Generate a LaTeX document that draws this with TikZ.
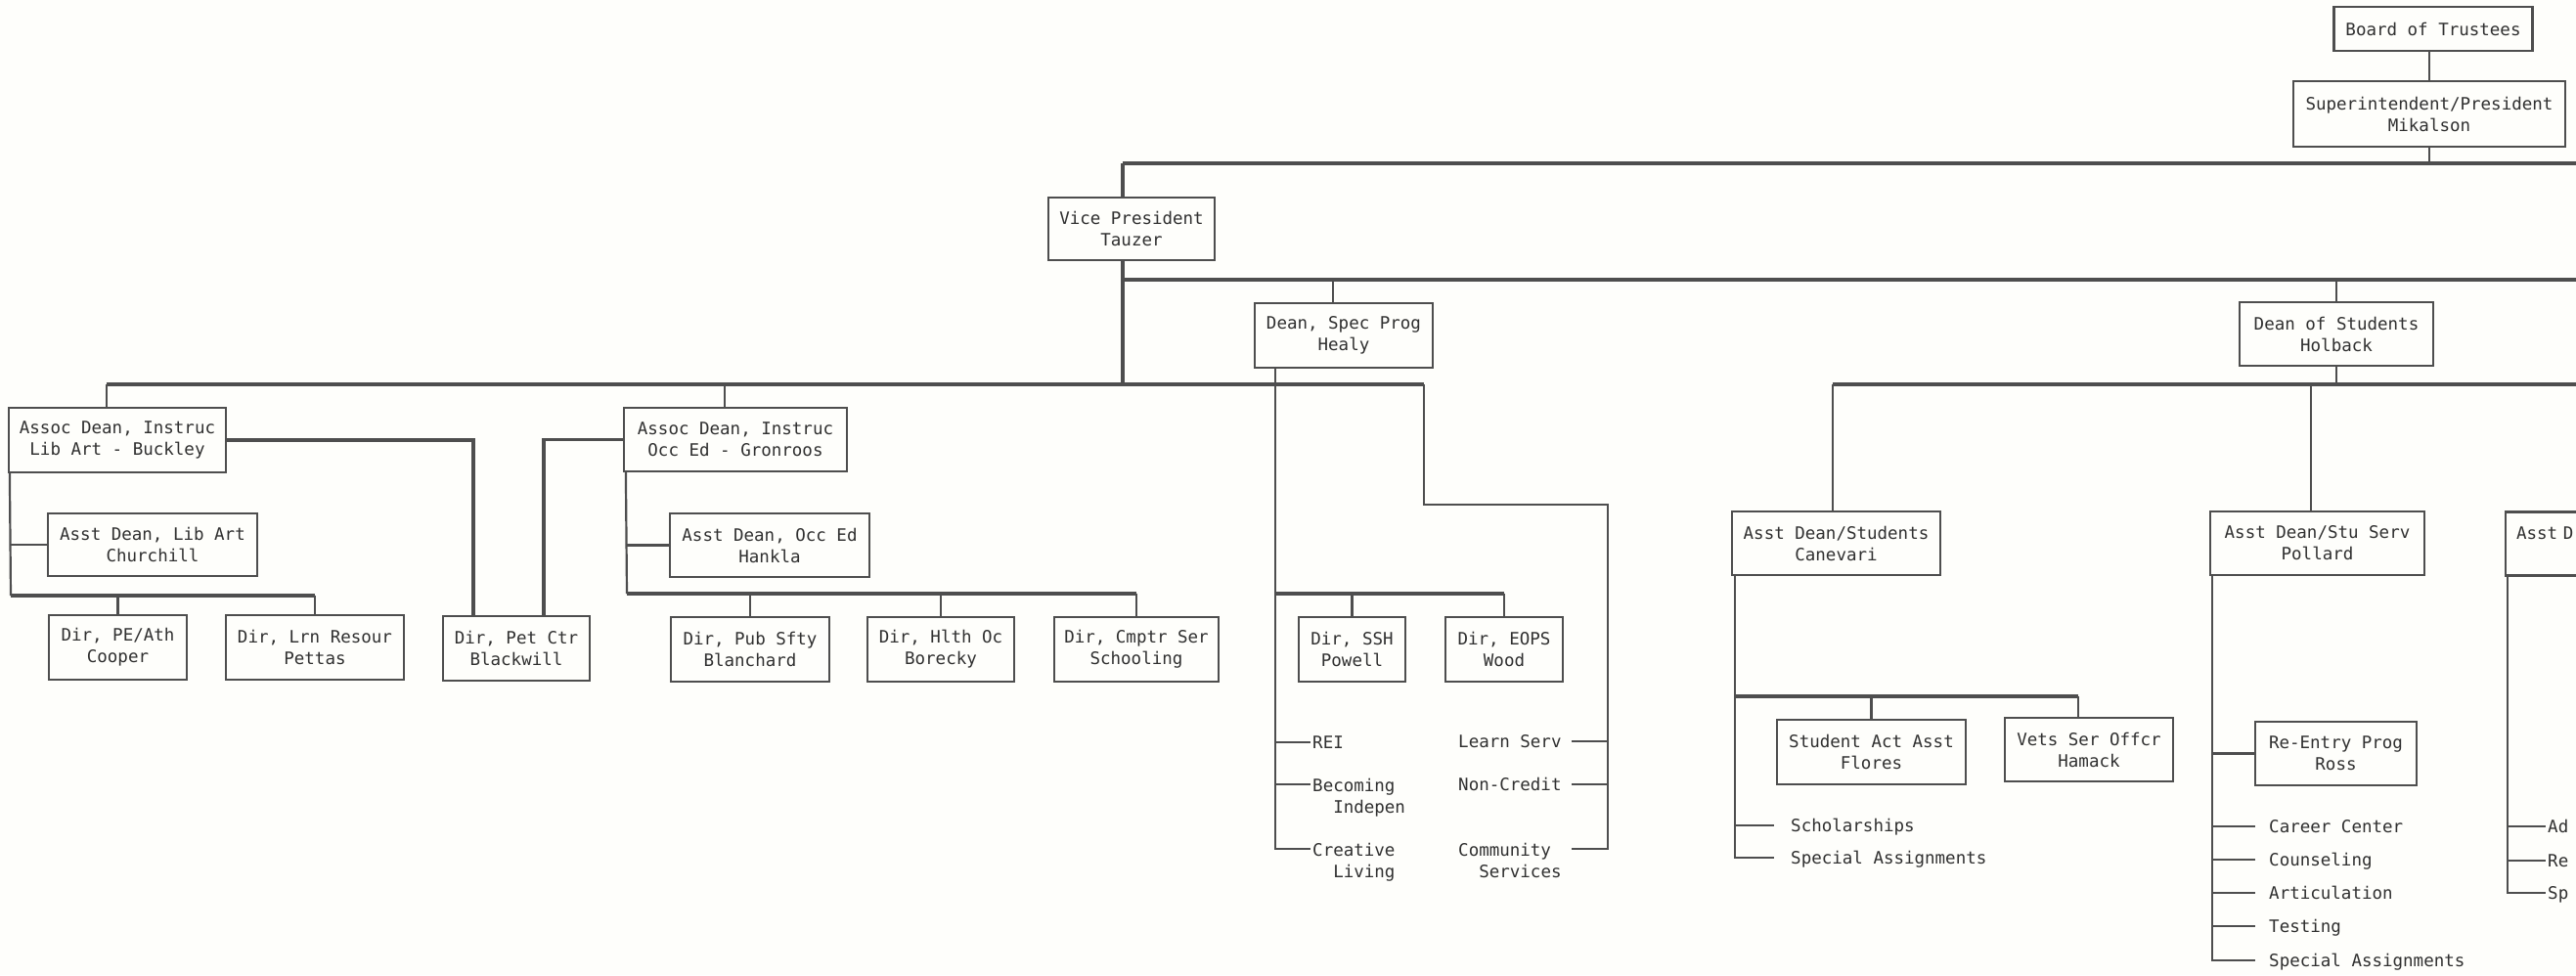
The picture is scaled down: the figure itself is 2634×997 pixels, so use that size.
\documentclass[tikz,border=0pt]{standalone}
\usepackage{fontspec}
\setmonofont{DejaVu Sans Mono}
\usetikzlibrary{calc}
\definecolor{linec}{RGB}{78,78,78}
\definecolor{textc}{RGB}{48,48,48}
\definecolor{paper}{RGB}{254,254,251}
\begin{document}
\begin{tikzpicture}[x=1pt,y=-1pt,
  font=\ttfamily\fontsize{17.5}{22}\selectfont,
  box/.style={draw=linec, line width=2.2pt, align=center, inner sep=0pt, text=textc},
  wh/.style 2 args={minimum width=#1pt, minimum height=#2pt},
  bus/.style={draw=linec, line width=3.3pt},
  conn/.style={draw=linec, line width=2.2pt},
  lbl/.style={inner sep=0pt, text=textc, text height=12.8pt, text depth=0pt, anchor=west},
  lbltwo/.style={inner sep=0pt, text=textc, align=left, anchor=north west},
]
\useasboundingbox (0,0) rectangle (2634,997);
\clip (0,0) rectangle (2634,997);
\fill[paper] (0,0) rectangle (2634,997);

% ---------- boxes ----------
\node[box, wh={203}{45}] (board) at (2488,29.5) {Board of Trustees};
\node[box, wh={278}{67}] (super) at (2484,116.5) {Superintendent/President\\Mikalson};
\node[box, wh={170}{64}] (vp) at (1157,234) {Vice President\\Tauzer};
\node[box, wh={182}{66}] (deanspec) at (1374,343) {Dean, Spec Prog\\Healy};
\node[box, wh={198}{65}] (deanstu) at (2389,341.5) {Dean of Students\\Holback};
\node[box, wh={222}{66}] (libart) at (120,450) {Assoc Dean, Instruc\\Lib Art - Buckley};
\node[box, wh={228}{65}] (occed) at (752,449.5) {Assoc Dean, Instruc\\Occ Ed - Gronroos};
\node[box, wh={214}{64}] (asstlib) at (156,557) {Asst Dean, Lib Art\\Churchill};
\node[box, wh={204}{65}] (asstocc) at (787,557.5) {Asst Dean, Occ Ed\\Hankla};
\node[box, wh={141}{66}] (pe) at (120.5,662) {Dir, PE/Ath\\Cooper};
\node[box, wh={182}{66}] (lrn) at (322,662) {Dir, Lrn Resour\\Pettas};
\node[box, wh={150}{66}] (pet) at (528,663) {Dir, Pet Ctr\\Blackwill};
\node[box, wh={162}{66}] (pub) at (767,664) {Dir, Pub Sfty\\Blanchard};
\node[box, wh={150}{66}] (hlth) at (962,664) {Dir, Hlth Oc\\Borecky};
\node[box, wh={168}{66}] (cmptr) at (1162,664) {Dir, Cmptr Ser\\Schooling};
\node[box, wh={109}{66}] (ssh) at (1382.5,664) {Dir, SSH\\Powell};
\node[box, wh={120}{66}] (eops) at (1538,664) {Dir, EOPS\\Wood};
\node[box, wh={213}{65}] (canevari) at (1877.5,555.5) {Asst Dean/Students\\Canevari};
\node[box, wh={219}{65}] (pollard) at (2369.5,555.5) {Asst Dean/Stu Serv\\Pollard};
\node[box, minimum height=65pt, text width=196pt, inner xsep=11pt, align=left] (third) at (2671,556) {Asst D\\\mbox{}};
\node[box, wh={193}{66}] (flores) at (1913.5,769) {Student Act Asst\\Flores};
\node[box, wh={172}{65}] (hamack) at (2136,766.5) {Vets Ser Offcr\\Hamack};
\node[box, wh={165}{65}] (reentry) at (2388.5,770.5) {Re-Entry Prog\\Ross};

% ---------- list labels ----------
\node[lbl] (rei) at (1342,759) {REI};
\node[lbltwo] (becoming) at (1342,795.5) {Becoming\\\phantom{XX}Indepen};
\node[lbltwo] (creative) at (1342,861.5) {Creative\\\phantom{XX}Living};
\node[lbl] (learn) at (1491,758) {Learn Serv};
\node[lbl] (noncr) at (1491,802) {Non-Credit};
\node[lbltwo] (commun) at (1491,861.5) {Community\\\phantom{XX}Services};
\node[lbl] (schol) at (1831,844) {Scholarships};
\node[lbl] (spaA) at (1831,877) {Special Assignments};
\node[lbl] (career) at (2320,845) {Career Center};
\node[lbl] (counsel) at (2320,879) {Counseling};
\node[lbl] (artic) at (2320,913) {Articulation};
\node[lbl] (testing) at (2320,947) {Testing};
\node[lbl] (spaB) at (2320,982) {Special Assignments};
\node[lbl] (ad) at (2605,845) {Ad};
\node[lbl] (re) at (2605,880) {Re};
\node[lbl] (sp) at (2605,913) {Sp};

% ---------- top levels ----------
\coordinate (L1a) at (1148,167); \coordinate (L1b) at (2640,167);
\draw[bus] (L1a) -- (L1b);
\draw[conn] (super.north) -- (super.north |- board.south);
\draw[conn] (super.south) -- (super.south |- L1a);
\draw[bus] (L1a) -- (L1a |- vp.north);
\coordinate (L3vp) at (1148,393);
\draw[bus] (L1a |- vp.south) -- (L3vp);
\coordinate (L2a) at (1148,286); \coordinate (L2b) at (2640,286);
\draw[bus] (L2a) -- (L2b);
\coordinate (dsx) at (1363,286);
\draw[conn] (dsx) -- (dsx |- deanspec.north);
\draw[conn] (deanstu.north |- L2a) -- (deanstu.north);

\coordinate (L3a) at (109,393); \coordinate (L3b) at (1456,393);
\draw[bus] (L3a) -- (L3b);
\draw[conn] (L3a) -- (L3a |- libart.north);
\coordinate (oex) at (741,393);
\draw[conn] (oex) -- (oex |- occed.north);

\coordinate (L4a) at (1874,393); \coordinate (L4b) at (2640,393);
\draw[bus] (L4a) -- (L4b);
\draw[conn] (L4a) -- (L4a |- canevari.north);
\coordinate (pox) at (2363,393);
\draw[conn] (pox) -- (pox |- pollard.north);
\draw[conn] (deanstu.south) -- (deanstu.south |- L4a);

% ---------- Lib Art ----------
\coordinate (petl) at (484,450); \coordinate (petr) at (556,450);
\draw[bus] (libart.east) -- (libart.east -| petl) -- (petl |- pet.north);
\draw[bus] (occed.west) -- (occed.west -| petr) -- (petr |- pet.north);
\coordinate (lal) at ([xshift=2pt]libart.south west);
\coordinate (labus) at (11,609);
\draw[conn] (lal) -- (labus);
\draw[bus] (labus) -- (lrn.north |- labus);
\draw[conn] (asstlib.west -| lal) -- (asstlib.west);
\draw[conn] (pe.north |- labus) -- (pe.north);
\draw[conn] (lrn.north |- labus) -- (lrn.north);

% ---------- Occ Ed ----------
\coordinate (oel) at ([xshift=3pt]occed.south west);
\coordinate (oebus) at (641,607);
\draw[conn] (oel) -- (oebus);
\draw[bus] (oebus) -- (cmptr.north |- oebus);
\draw[conn] (asstocc.west -| oel) -- (asstocc.west);
\foreach \n in {pub,hlth,cmptr} \draw[conn] (\n.north |- oebus) -- (\n.north);

% ---------- Spec Prog ----------
\coordinate (spl) at ([xshift=22pt]deanspec.south west);
\coordinate (spbus) at (1305,607);
\draw[bus] (spbus) -- (eops.north |- spbus);
\draw[conn] (ssh.north |- spbus) -- (ssh.north);
\draw[conn] (eops.north |- spbus) -- (eops.north);
\draw[conn, shorten >=2pt] (rei.west -| spl) -- (rei.west);
\coordinate (becy) at ($(becoming.north west)+(0,6.5)$);
\draw[conn, shorten >=2pt] (becy -| spl) -- (becy);
\coordinate (crey) at ($(creative.north west)+(0,6.5)$);
\draw[conn] (spl) -- (spl |- crey) -- ([xshift=-2pt]crey);

\coordinate (srm) at (1456,516); \coordinate (srr) at (1644,516);
\coordinate (commy) at ($(commun.north east)+(0,6.5)$);
\draw[conn] (L3b) -- (srm) -- (srr) -- (srr |- commy) -- ([xshift=10pt]commy);
\draw[conn, shorten >=10pt] (learn.east -| srr) -- (learn.east);
\draw[conn, shorten >=10pt] (noncr.east -| srr) -- (noncr.east);

% ---------- Canevari ----------
\coordinate (cvl) at ([xshift=4pt]canevari.south west);
\coordinate (cvbus) at (1775,712);
\coordinate (hmx) at (2125,712);
\draw[bus] (cvbus) -- (hmx);
\draw[conn] (flores.north |- cvbus) -- (flores.north);
\draw[conn] (hmx) -- (hmx |- hamack.north);
\draw[conn, shorten >=17pt] (cvl) -- (cvl |- spaA.west) -- (spaA.west);
\draw[conn, shorten >=17pt] (schol.west -| cvl) -- (schol.west);

% ---------- Pollard ----------
\coordinate (pol) at ([xshift=3pt]pollard.south west);
\draw[conn, shorten >=14pt] (pol) -- (pol |- spaB.west) -- (spaB.west);
\draw[conn] (reentry.west -| pol) -- (reentry.west);
\foreach \n in {career,counsel,artic,testing} \draw[conn, shorten >=14pt] (\n.west -| pol) -- (\n.west);

% ---------- third ----------
\coordinate (thl) at ([xshift=3pt]third.south west);
\draw[conn, shorten >=2pt] (thl) -- (thl |- sp.west) -- (sp.west);
\foreach \n in {ad,re} \draw[conn, shorten >=2pt] (\n.west -| thl) -- (\n.west);
\end{tikzpicture}
\end{document}
